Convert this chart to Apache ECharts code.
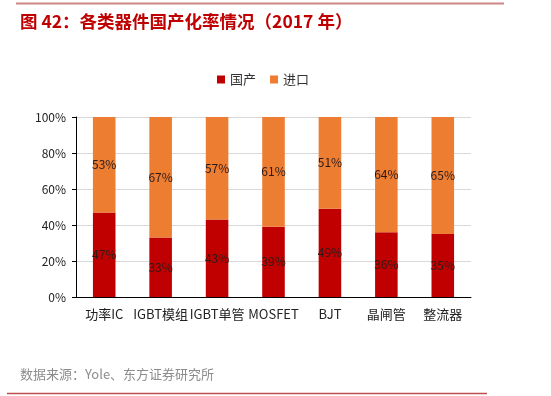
<!DOCTYPE html>
<html>
<head>
<meta charset="utf-8">
<script src="https://cdn.jsdelivr.net/npm/echarts@6/dist/echarts.min.js"></script>
<style>
  html, body { margin: 0; padding: 0; background: #fff; }
  #chart { width: 551px; height: 396px; }
</style>
</head>
<body>
<div id="chart"></div>
<script>
// 数据
const categories = ['功率IC', 'IGBT模组', 'IGBT单管', 'MOSFET', 'BJT', '晶闸管', '整流器']
const domestic = [47, 33, 43, 39, 49, 36, 35]
const imported = [53, 67, 57, 61, 51, 64, 65]
const yTicks = [0, 20, 40, 60, 80, 100]

const font = '"Noto Sans CJK SC", "Microsoft YaHei", sans-serif'
const chart = echarts.init(document.getElementById('chart'))

const labelStyle = {
  show: true,
  position: 'inside',
  color: '#2a1a1a',
  fontSize: 12,
  fontFamily: font,
  formatter: p => p.value + '%'
}

chart.setOption({
  animation: false,
  title: {
    text: '图 42：各类器件国产化率情况（2017 年）',
    left: 15,
    top: 8,
    textStyle: { color: '#c00000', fontSize: 17.5, fontWeight: 'bold', fontFamily: font }
  },
  legend: {
    data: ['国产', '进口'],
    top: 68,
    left: 212,
    itemWidth: 8,
    itemHeight: 8,
    itemGap: 14,
    icon: 'rect',
    selectedMode: false, // 不能点
    textStyle: { color: '#333', fontSize: 13, fontFamily: font }
  },
  grid: { left: 76, right: 80, top: 117, bottom: 99 },
  xAxis: {
    type: 'category',
    data: categories,
    axisLine: { lineStyle: { color: '#000', width: 1 } },
    axisTick: { show: false },
    axisLabel: { color: '#222', fontSize: 13, fontFamily: font, margin: 11, interval: 0 }
  },
  yAxis: {
    type: 'value',
    min: yTicks[0],
    max: yTicks[yTicks.length - 1],
    interval: 20,
    axisLine: { show: true, lineStyle: { color: '#000', width: 1 } },
    axisTick: { show: true, length: 4, lineStyle: { color: '#000' } },
    axisLabel: { color: '#222', fontSize: 12, fontFamily: font, margin: 10, formatter: '{value}%' },
    splitLine: { lineStyle: { color: '#d9d9d9' } }
  },
  series: [
    {
      name: '国产',
      type: 'bar',
      stack: 'total',
      barWidth: '40%',
      data: domestic,
      itemStyle: { color: '#c00000' },
      label: labelStyle
    },
    {
      name: '进口',
      type: 'bar',
      stack: 'total',
      barWidth: '40%',
      data: imported,
      itemStyle: { color: '#ed7d31' },
      label: labelStyle
    }
  ],
  graphic: [
    {
      type: 'line',
      shape: { x1: 16, y1: 3.5, x2: 504, y2: 3.5 },
      style: { stroke: '#d08585', lineWidth: 2 }
    },
    {
      type: 'text',
      left: 20,
      top: 368,
      style: { text: '数据来源：Yole、东方证券研究所', fill: '#8c8c8c', fontSize: 13, fontFamily: font }
    },
    {
      type: 'line',
      shape: { x1: 7, y1: 393.5, x2: 487, y2: 393.5 },
      style: { stroke: '#c0504d', lineWidth: 1.5 }
    }
  ]
})
</script>
</body>
</html>
